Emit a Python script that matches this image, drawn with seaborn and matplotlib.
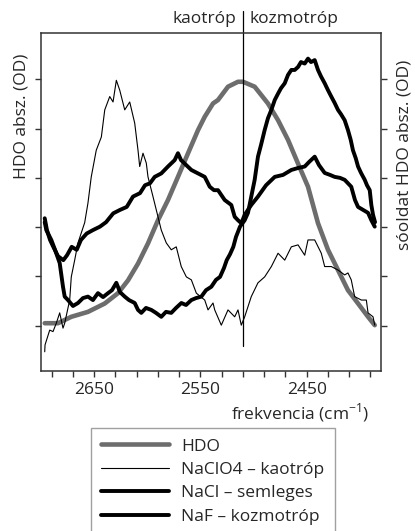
import numpy as np
import pandas as pd
import matplotlib
matplotlib.use("Agg")
import matplotlib.pyplot as plt
import seaborn as sns

# HDO referencia (szurke, vastag)
hdo_x = [2696.5, 2684.0, 2671.5, 2655.8, 2640.0, 2627.5, 2618.1, 2608.7, 2599.3, 2589.9,
         2580.5, 2571.1, 2561.6, 2552.2, 2545.9, 2538.1, 2533.4, 2524.0, 2514.6, 2509.9,
         2498.9, 2486.4, 2476.9, 2467.5, 2458.1, 2448.7, 2439.3, 2429.9, 2420.5, 2411.1,
         2401.6, 2392.2, 2385.9]
hdo_y = [0.05, 0.05, 0.18, 0.28, 0.45, 0.66, 0.92, 1.26, 1.67, 2.14,
         2.55, 3.02, 3.50, 3.97, 4.24, 4.51, 4.58, 4.85, 4.95, 4.95,
         4.85, 4.51, 4.17, 3.77, 3.29, 2.82, 2.08, 1.54, 1.13, 0.72,
         0.45, 0.18, 0.01]

# NaClO4 - kaotrop (vekony)
naclo4_x = [2696.5, 2696.2, 2691.8, 2688.7, 2685.6, 2682.4, 2679.3, 2677.7, 2673.0, 2671.5,
            2668.3, 2665.2, 2658.9, 2655.8, 2652.7, 2648.0, 2643.2, 2640.0, 2635.3, 2632.2,
            2629.1, 2625.9, 2621.2, 2616.5, 2611.8, 2608.7, 2607.1, 2604.0, 2600.9, 2599.3,
            2594.6, 2586.8, 2582.1, 2577.4, 2572.7, 2568.0, 2563.2, 2558.5, 2553.8, 2545.9,
            2542.8, 2538.1, 2536.5, 2530.3, 2524.0, 2517.7, 2514.6, 2511.5, 2508.3, 2502.1,
            2495.8, 2489.5, 2483.2, 2476.9, 2470.6, 2464.4, 2458.1, 2451.8, 2448.7, 2442.4,
            2436.2, 2433.0, 2426.8, 2420.5, 2414.2, 2411.1, 2408.0, 2404.8, 2398.5, 2393.8,
            2392.2, 2387.5, 2385.9]
naclo4_y = [-0.53, -0.39, -0.09, -0.12, 0.05, 0.26, -0.05, 0.05, 0.52, 0.99,
            1.33, 1.68, 2.09, 2.49, 3.02, 3.56, 3.83, 4.38, 4.65, 4.54,
            4.98, 4.78, 4.38, 4.54, 4.11, 3.56, 3.23, 3.50, 3.30, 3.02,
            2.62, 1.94, 1.68, 1.54, 1.60, 1.20, 0.99, 0.93, 0.66, 0.52,
            0.32, 0.46, 0.32, 0.01, 0.32, 0.18, 0.32, 0.01, 0.18, 0.59,
            0.87, 0.99, 1.20, 1.47, 1.33, 1.60, 1.64, 1.43, 1.74, 1.74,
            1.47, 1.20, 1.20, 1.13, 1.03, 1.07, 0.93, 0.59, 0.52, 0.52,
            0.26, 0.18, 0.01]

# NaCl - semleges
nacl_x = [2696.5, 2694.4, 2691.5, 2688.4, 2684.0, 2679.0, 2675.5, 2671.1, 2666.4, 2662.4,
          2657.0, 2651.1, 2644.5, 2638.8, 2632.0, 2625.6, 2619.3, 2613.4, 2606.8, 2602.1,
          2597.4, 2593.0, 2586.8, 2580.5, 2574.2, 2571.1, 2568.2, 2564.8, 2558.5, 2552.2,
          2545.9, 2541.2, 2537.2, 2533.4, 2527.1, 2520.9, 2517.7, 2514.6, 2511.5, 2508.3,
          2505.2, 2502.1, 2495.8, 2488.2, 2480.0, 2472.2, 2464.4, 2458.1, 2451.8, 2447.8,
          2442.4, 2438.4, 2433.0, 2428.0, 2423.6, 2418.6, 2414.2, 2411.1, 2408.0, 2404.5,
          2401.6, 2396.9, 2392.2, 2389.1, 2385.9]
nacl_y = [2.18, 1.94, 1.74, 1.60, 1.41, 1.33, 1.43, 1.60, 1.54, 1.74,
          1.87, 1.94, 2.01, 2.10, 2.28, 2.35, 2.41, 2.62, 2.69, 2.85,
          2.89, 3.02, 3.09, 3.23, 3.36, 3.50, 3.36, 3.29, 3.16, 3.09,
          3.02, 2.82, 2.75, 2.75, 2.55, 2.45, 2.21, 2.14, 2.08, 2.25,
          2.35, 2.45, 2.62, 2.85, 3.02, 3.06, 3.16, 3.20, 3.23, 3.32,
          3.43, 3.26, 3.10, 3.06, 3.02, 3.00, 2.96, 2.89, 2.82, 2.55,
          2.41, 2.35, 2.29, 2.14, 2.01]

# NaF - kozmotrop
naf_x = [2696.5, 2695.0, 2690.3, 2686.8, 2682.4, 2679.3, 2677.7, 2674.6, 2669.9, 2665.2,
         2660.5, 2655.8, 2651.1, 2646.4, 2641.6, 2636.9, 2633.2, 2629.1, 2625.6, 2621.2,
         2617.2, 2611.8, 2608.7, 2605.6, 2601.2, 2596.2, 2591.8, 2586.8, 2582.4, 2577.4,
         2572.9, 2567.9, 2563.5, 2558.5, 2554.1, 2549.1, 2544.7, 2539.7, 2535.3, 2531.5,
         2527.8, 2525.2, 2522.1, 2519.0, 2516.5, 2512.7, 2508.3, 2505.2, 2502.1, 2498.9,
         2495.8, 2492.9, 2489.5, 2486.4, 2483.2, 2480.0, 2476.9, 2474.1, 2470.6, 2467.5,
         2464.4, 2461.2, 2458.1, 2455.3, 2451.8, 2448.7, 2445.9, 2442.4, 2439.3, 2436.5,
         2433.0, 2429.9, 2426.8, 2423.6, 2420.5, 2417.6, 2414.2, 2411.1, 2408.5, 2406.4,
         2403.8, 2401.6, 2398.8, 2395.3, 2393.2, 2390.6, 2389.1, 2387.5, 2385.6]
naf_y = [2.10, 1.94, 1.74, 1.54, 1.27, 0.79, 0.59, 0.52, 0.40, 0.46,
         0.56, 0.59, 0.52, 0.66, 0.58, 0.66, 0.72, 0.87, 0.68, 0.59,
         0.52, 0.46, 0.32, 0.26, 0.36, 0.32, 0.26, 0.18, 0.28, 0.26,
         0.36, 0.46, 0.42, 0.52, 0.56, 0.59, 0.72, 0.79, 0.93, 0.99,
         1.17, 1.33, 1.45, 1.60, 1.80, 2.01, 2.14, 2.29, 2.62, 2.96,
         3.43, 3.67, 3.97, 4.21, 4.38, 4.58, 4.71, 4.82, 4.92, 5.09,
         5.19, 5.19, 5.25, 5.35, 5.32, 5.42, 5.35, 5.39, 5.19, 5.06,
         4.92, 4.78, 4.65, 4.52, 4.38, 4.29, 4.17, 3.97, 3.77, 3.56,
         3.40, 3.23, 3.10, 2.96, 2.85, 2.75, 2.45, 2.25, 2.10]

labels = ["HDO", "NaClO4 – kaotróp", "NaCl – semleges", "NaF – kozmotróp"]
xticks_major = [2650, 2550, 2450]

sns.set_style("ticks")
plt.rcParams['font.family'] = ['Open Sans', 'DejaVu Sans']
plt.rcParams['mathtext.fontset'] = 'custom'
plt.rcParams['mathtext.rm'] = 'Open Sans'

fs = 12.5
fig = plt.figure(figsize=(4.15, 5.31), dpi=100)
ax = fig.add_axes([41/415, 1 - 371/531, 340/415, 338/531])

series = [
    (hdo_x, hdo_y, "#6d6d6d", 3.3),
    (naclo4_x, naclo4_y, "black", 0.8),
    (nacl_x, nacl_y, "black", 2.8),
    (naf_x, naf_y, "black", 2.8),
]
handles = []
for (xs, ys, c, lw), lab in zip(series, labels):
    df = pd.DataFrame({"x": xs, "y": ys})
    sns.lineplot(data=df, x="x", y="y", color=c, linewidth=lw, ax=ax, label=lab, legend=False)
    handles.append(ax.lines[-1])

ax.set_xlim(2700, 2380)
ax.set_ylim(-0.92, 5.94)

ax.set_xticks(xticks_major)
ax.set_xticks(np.arange(2390, 2700, 20), minor=True)
ax.set_yticks(range(0, 6))
ax.set_yticklabels([])
ax.tick_params(axis="both", which="both", direction="out", length=4, width=1, color="#333333",
               labelsize=fs, right=True)
ax.tick_params(axis="x", pad=4)
for sp in ax.spines.values():
    sp.set_color("#333333")
    sp.set_linewidth(1.1)

ax.set_xlabel(r"frekvencia (cm$^{\mathregular{-1}}$)", fontsize=fs)
ax.xaxis.set_label_coords(0.762, -0.09)
ax.set_ylabel("HDO absz. (OD)", fontsize=fs)
ax.yaxis.set_label_coords(-0.033, 0.754)
ax.text(1.07, 0.639, "sóoldat HDO absz. (OD)", transform=ax.transAxes, rotation=90,
        ha="center", va="center", fontsize=fs)

# kaotrop / kozmotrop hatar
ax.axvline(2510, ymin=(371-346)/338, ymax=(371-11)/338, color="black", lw=0.9, clip_on=False)
ax.text(2516, 1.04, "kaotróp", transform=ax.get_xaxis_transform(), ha="right", va="center", fontsize=fs)
ax.text(2504, 1.04, "kozmotróp", transform=ax.get_xaxis_transform(), ha="left", va="center", fontsize=fs)

leg = fig.legend(handles, labels, loc="upper left", bbox_to_anchor=(91/415, 1 - 428/531),
                 borderaxespad=0, frameon=True, fancybox=False, fontsize=fs, handlelength=3.9,
                 handletextpad=0.7, labelspacing=0.42, borderpad=0.6)
leg.get_frame().set_edgecolor("#888888")
leg.get_frame().set_linewidth(1.0)

fig.savefig("out.png", dpi=100)
